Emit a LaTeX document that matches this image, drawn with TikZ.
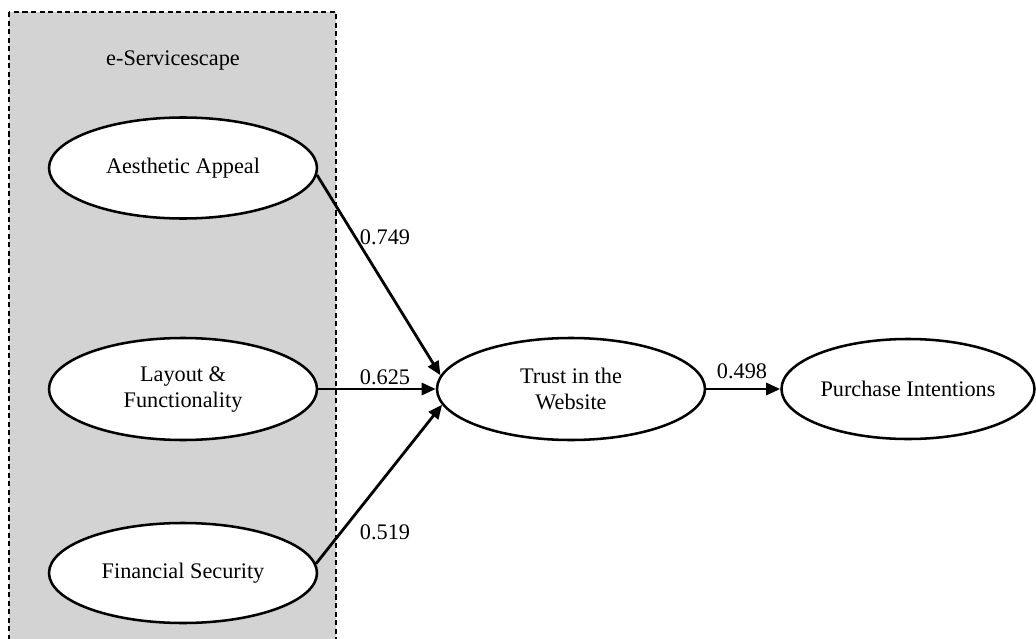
\documentclass[tikz,border=0pt]{standalone}
\usepackage{fontspec}
\setmainfont{Liberation Serif}
\usetikzlibrary{shapes.geometric,arrows.meta}
\definecolor{boxgray}{RGB}{211,211,211}
\tikzset{
  construct/.style={ellipse, draw=black, line width=1.9pt, fill=white, inner sep=0pt, align=center,
    font=\fontsize{16.7}{19.5}\selectfont},
  path/.style={line width=2.1pt, -{Triangle[length=10.5pt,width=9pt]}},
  coef/.style={font=\fontsize{16.7}{19.5}\selectfont, inner sep=0pt}
}
\begin{document}
\begin{tikzpicture}[x=0.75pt,y=-0.75pt]
\useasboundingbox (0,0) rectangle (1036,639);
\begin{scope}
\clip (0,0) rectangle (1036,639);
\draw[fill=boxgray, line width=1.8pt, dash pattern=on 3.8pt off 2.6pt] (9,12) rectangle (336,650);
\end{scope}
\node[coef] (title) at (173,60) {e-Servicescape};
\node[construct, minimum width=268*0.75pt, minimum height=101*0.75pt] (aa) at (183,168) {Aesthetic Appeal};
\node[construct, minimum width=268*0.75pt, minimum height=102*0.75pt] (lf) at (183,389) {Layout \&\\Functionality};
\node[construct, minimum width=268*0.75pt, minimum height=100*0.75pt] (fs) at (183,573) {Financial Security};
\node[construct, minimum width=268*0.75pt, minimum height=102*0.75pt] (tw) at (571,389) {Trust in the\\Website};
\node[construct, minimum width=253*0.75pt, minimum height=100*0.75pt] (pi) at (908,389) {Purchase Intentions};
\draw[path] (aa.-3) -- (tw.174);
\draw[path] (lf.east) -- (tw.west);
\draw[path] (fs.4) -- (tw.-173);
\draw[path] (tw.east) -- (pi.west);
\node[coef] (c1) at (385,237) {0.749};
\node[coef] (c2) at (385,377) {0.625};
\node[coef] (c3) at (385,532) {0.519};
\node[coef] (c4) at (742,371) {0.498};
\end{tikzpicture}
\end{document}
